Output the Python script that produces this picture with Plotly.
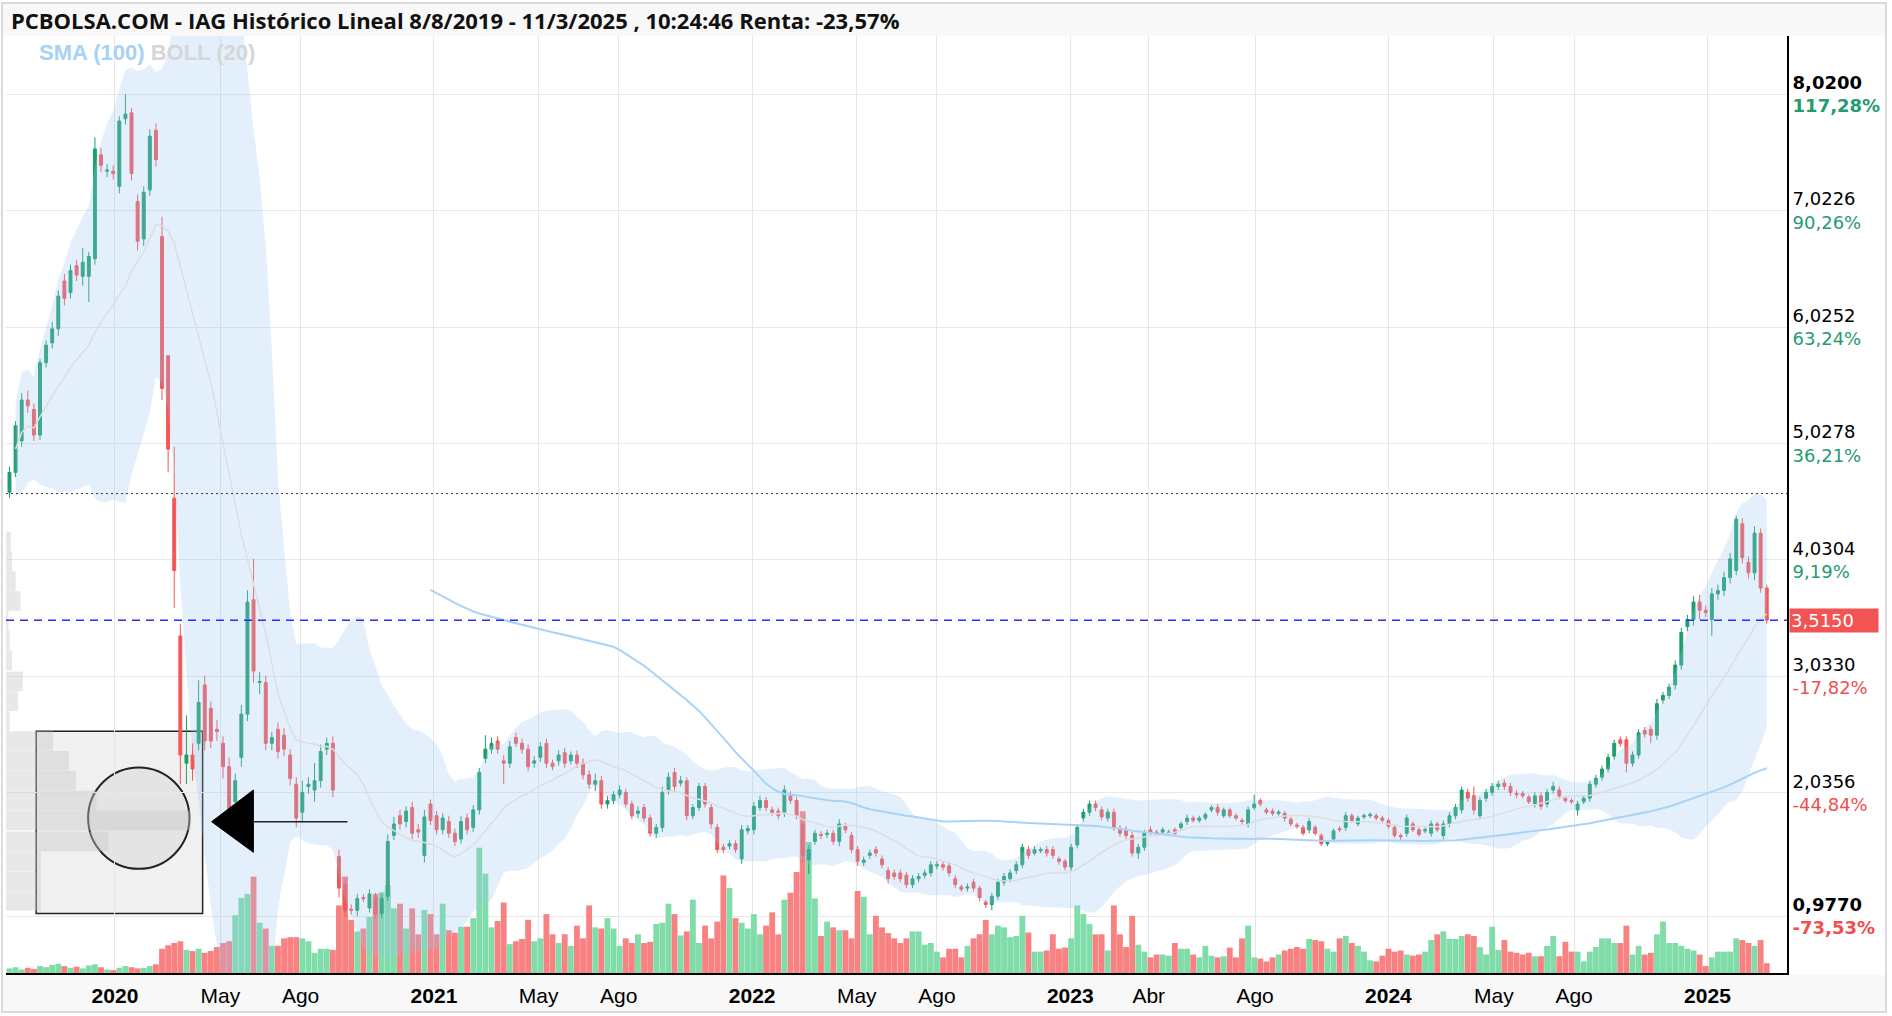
import numpy as np
import pandas as pd
import plotly.graph_objects as go

# ---------------- data (weekly candles IAG) ----------------
first_week = "2019-09-02"

opens = [
    4.61, 4.78, 5.05, 5.40, 5.32, 5.10, 5.72, 5.89, 6.01, 6.42,
    6.32, 6.55, 6.46, 6.46, 6.61, 7.50, 7.36, 7.36, 7.23, 7.81,
    7.86, 7.10, 6.78, 7.20, 7.71, 6.80, 5.78, 4.56, 3.38, 2.29,
    2.36, 2.46, 2.96, 2.76, 2.58, 2.46, 2.26, 1.96, 2.34, 2.71,
    3.69, 2.98, 2.98, 2.46, 2.58, 2.53, 2.36, 2.11, 1.87, 2.09,
    2.06, 2.14, 2.41, 2.46, 1.49, 1.25, 1.04, 1.03, 1.14, 1.05,
    1.14, 1.00, 1.15, 1.67, 1.84, 1.79, 1.91, 1.72, 1.50, 1.94,
    1.84, 1.72, 1.79, 1.69, 1.64, 1.82, 1.74, 1.89, 2.33, 2.41,
    2.48, 2.31, 2.29, 2.51, 2.46, 2.41, 2.29, 2.34, 2.46, 2.29,
    2.31, 2.38, 2.31, 2.36, 2.29, 2.19, 2.11, 2.14, 1.94, 1.97,
    2.02, 2.04, 1.94, 1.86, 1.91, 1.82, 1.69, 1.74, 2.06, 2.21,
    2.12, 2.14, 1.84, 1.91, 2.09, 1.91, 1.74, 1.57, 1.58, 1.60,
    1.47, 1.71, 1.72, 1.91, 1.97, 1.89, 1.88, 1.87, 2.02, 1.97,
    1.77, 1.46, 1.62, 1.68, 1.68, 1.69, 1.62, 1.75, 1.67, 1.55,
    1.44, 1.50, 1.55, 1.47, 1.37, 1.35, 1.35, 1.33, 1.25, 1.30,
    1.33, 1.35, 1.41, 1.42, 1.41, 1.30, 1.23, 1.22, 1.27, 1.22,
    1.10, 1.08, 1.15, 1.27, 1.30, 1.37, 1.42, 1.55, 1.52, 1.54,
    1.55, 1.55, 1.47, 1.45, 1.40, 1.59, 1.82, 1.87, 1.94, 1.89,
    1.82, 1.87, 1.73, 1.72, 1.67, 1.52, 1.57, 1.72, 1.70, 1.70,
    1.69, 1.72, 1.74, 1.79, 1.82, 1.80, 1.82, 1.89, 1.91, 1.84,
    1.89, 1.84, 1.80, 1.77, 1.91, 1.97, 1.89, 1.88, 1.86, 1.86,
    1.81, 1.76, 1.74, 1.72, 1.74, 1.67, 1.60, 1.64, 1.73, 1.74,
    1.84, 1.77, 1.83, 1.84, 1.84, 1.82, 1.80, 1.74, 1.67, 1.69,
    1.77, 1.72, 1.71, 1.69, 1.77, 1.67, 1.77, 1.84, 1.89, 2.04,
    2.01, 1.84, 1.99, 2.04, 2.09, 2.12, 2.09, 2.03, 2.03, 2.00,
    1.94, 2.01, 1.94, 2.06, 2.06, 1.99, 1.97, 1.89, 1.96, 1.99,
    2.11, 2.17, 2.24, 2.35, 2.49, 2.49, 2.29, 2.36, 2.57, 2.58,
    2.53, 2.83, 2.87, 2.96, 3.13, 3.46, 3.52, 3.67, 3.60, 3.52,
    3.74, 3.77, 3.88, 3.94, 4.34, 4.01, 3.92, 4.26, 3.79,
]

closes = [
    4.78, 5.18, 5.40, 5.35, 5.10, 5.72, 5.87, 6.01, 6.29, 6.27,
    6.51, 6.47, 6.58, 6.63, 7.55, 7.41, 7.37, 7.34, 7.79, 7.85,
    7.34, 6.76, 7.18, 7.66, 7.46, 5.50, 4.98, 3.94, 2.36, 2.36,
    2.24, 2.81, 2.48, 2.48, 2.56, 2.26, 1.87, 2.14, 2.71, 3.67,
    3.08, 2.99, 2.46, 2.51, 2.39, 2.41, 2.16, 1.82, 2.04, 2.11,
    2.14, 2.39, 2.46, 2.06, 1.22, 1.03, 1.03, 1.13, 1.13, 1.17,
    1.00, 1.13, 1.62, 1.77, 1.77, 1.88, 1.69, 1.70, 1.83, 1.80,
    1.72, 1.82, 1.69, 1.62, 1.79, 1.72, 1.89, 2.21, 2.41, 2.46,
    2.41, 2.29, 2.43, 2.46, 2.41, 2.26, 2.31, 2.43, 2.29, 2.26,
    2.36, 2.29, 2.36, 2.29, 2.19, 2.11, 2.14, 1.94, 1.97, 2.02,
    2.06, 1.94, 1.84, 1.88, 1.82, 1.69, 1.74, 2.04, 2.17, 2.09,
    2.14, 1.84, 1.91, 2.09, 1.94, 1.77, 1.55, 1.55, 1.60, 1.55,
    1.72, 1.73, 1.92, 1.97, 1.91, 1.87, 1.84, 2.06, 1.97, 1.84,
    1.50, 1.55, 1.69, 1.67, 1.69, 1.62, 1.77, 1.72, 1.55, 1.45,
    1.46, 1.52, 1.52, 1.42, 1.30, 1.32, 1.30, 1.25, 1.30, 1.32,
    1.35, 1.42, 1.42, 1.40, 1.35, 1.25, 1.21, 1.23, 1.22, 1.14,
    1.08, 1.15, 1.27, 1.32, 1.35, 1.42, 1.57, 1.50, 1.55, 1.55,
    1.52, 1.50, 1.45, 1.40, 1.57, 1.74, 1.87, 1.94, 1.91, 1.83,
    1.87, 1.74, 1.69, 1.67, 1.52, 1.57, 1.69, 1.70, 1.69, 1.72,
    1.70, 1.69, 1.77, 1.82, 1.80, 1.82, 1.85, 1.91, 1.87, 1.89,
    1.84, 1.82, 1.79, 1.89, 1.94, 1.94, 1.87, 1.86, 1.87, 1.82,
    1.77, 1.75, 1.69, 1.79, 1.69, 1.60, 1.61, 1.71, 1.72, 1.84,
    1.80, 1.82, 1.84, 1.85, 1.82, 1.80, 1.75, 1.67, 1.66, 1.82,
    1.72, 1.68, 1.72, 1.77, 1.72, 1.77, 1.84, 1.91, 2.06, 1.99,
    1.89, 1.97, 2.04, 2.09, 2.11, 2.09, 2.04, 2.02, 2.01, 1.96,
    2.01, 1.92, 2.04, 2.09, 2.01, 1.97, 1.96, 1.94, 1.99, 2.11,
    2.16, 2.24, 2.34, 2.46, 2.46, 2.29, 2.36, 2.55, 2.54, 2.53,
    2.80, 2.87, 2.94, 3.13, 3.41, 3.52, 3.67, 3.60, 3.58, 3.74,
    3.77, 3.88, 4.04, 4.38, 4.05, 3.92, 4.26, 3.79, 3.515,
]

# upper / lower wick lengths (hundredths of a euro)
wick_up = [
    5, 4, 6, 8, 5, 3, 4, 6, 5, 6, 5, 5, 12, 4, 10, 6, 5, 5, 4, 17,
    4, 6, 5, 6, 6, 17, 0, 44, 10, 34, 10, 19, 8, 6, 8, 6, 8, 6, 8, 10,
    35, 8, 6, 5, 6, 6, 5, 6, 10, 6, 15, 6, 5, 6, 6, 5, 4, 4, 3, 4,
    4, 4, 6, 6, 5, 4, 5, 5, 6, 4, 4, 4, 5, 4, 5, 4, 4, 4, 12, 5,
    4, 5, 5, 4, 4, 4, 4, 4, 4, 3, 4, 4, 3, 4, 4, 4, 6, 4, 4, 3,
    4, 3, 3, 4, 3, 3, 3, 5, 4, 4, 4, 3, 3, 3, 3, 3, 3, 3, 3, 3,
    4, 3, 4, 4, 3, 3, 3, 4, 3, 3, 4, 4, 3, 3, 3, 3, 4, 3, 3, 3,
    3, 3, 3, 3, 3, 3, 3, 3, 3, 3, 3, 3, 3, 3, 3, 3, 2, 3, 3, 2,
    2, 3, 3, 3, 3, 3, 3, 3, 3, 2, 3, 3, 2, 2, 3, 3, 3, 3, 3, 3,
    3, 3, 3, 3, 3, 3, 3, 3, 2, 2, 2, 2, 2, 3, 2, 2, 2, 2, 3, 2,
    2, 2, 2, 3, 8, 2, 2, 2, 2, 2, 2, 2, 2, 3, 2, 2, 2, 2, 2, 3,
    2, 2, 2, 2, 2, 2, 2, 2, 2, 3, 2, 2, 2, 3, 2, 3, 3, 3, 3, 3,
    8, 3, 3, 3, 3, 3, 3, 3, 2, 2, 3, 3, 3, 4, 3, 2, 2, 3, 2, 3,
    3, 3, 3, 3, 3, 3, 3, 3, 3, 3, 4, 3, 3, 4, 4, 4, 5, 6, 4, 5,
    5, 5, 5, 3, 5, 5, 6, 4, 3,
]
wick_dn = [
    5, 4, 5, 6, 5, 4, 4, 5, 6, 6, 5, 5, 8, 22, 5, 6, 5, 5, 6, 5,
    6, 8, 6, 5, 6, 10, 20, 32, 25, 18, 10, 6, 8, 6, 8, 10, 8, 8, 8, 6,
    10, 10, 6, 6, 6, 6, 6, 8, 8, 6, 10, 6, 5, 6, 8, 6, 4, 5, 3, 4,
    4, 4, 4, 4, 5, 5, 5, 5, 6, 4, 4, 4, 4, 4, 4, 4, 4, 4, 4, 4,
    4, 18, 4, 3, 4, 4, 4, 4, 4, 3, 4, 4, 3, 4, 4, 4, 6, 4, 4, 3,
    3, 3, 3, 4, 3, 3, 4, 4, 4, 4, 3, 4, 3, 3, 3, 4, 3, 3, 3, 3,
    4, 3, 4, 3, 3, 3, 3, 4, 3, 3, 6, 12, 3, 3, 3, 3, 4, 3, 3, 4,
    3, 3, 3, 3, 4, 3, 3, 3, 3, 3, 3, 3, 3, 3, 3, 3, 2, 3, 3, 3,
    3, 5, 3, 3, 3, 3, 3, 3, 2, 2, 3, 3, 3, 3, 3, 3, 3, 3, 3, 3,
    3, 3, 3, 3, 3, 5, 3, 3, 2, 2, 2, 2, 2, 3, 2, 2, 2, 2, 3, 2,
    2, 2, 2, 3, 2, 2, 2, 2, 2, 3, 2, 2, 2, 3, 2, 2, 2, 2, 2, 3,
    2, 2, 2, 2, 2, 2, 2, 2, 3, 3, 2, 2, 2, 3, 2, 3, 3, 3, 3, 3,
    4, 3, 3, 3, 3, 3, 3, 3, 2, 2, 3, 3, 3, 3, 3, 2, 2, 5, 2, 3,
    3, 3, 3, 3, 3, 8, 3, 3, 3, 7, 4, 3, 3, 4, 4, 4, 5, 8, 4, 14,
    5, 5, 5, 4, 5, 5, 6, 4, 3,
]

# weekly volume (millions of shares, approx.)
volume = [
    8, 10, 6, 9, 7, 12, 10, 14, 16, 12, 9, 11, 8, 13, 15, 10, 6, 5, 9, 12, 10, 8, 9, 12, 15,
    42, 48, 52, 55, 40, 38, 42, 35, 38, 45, 52, 55, 100, 130, 137, 167, 87, 77, 47, 47, 60, 62, 62,
    60, 55, 35, 42, 42, 40, 117, 167, 92, 72, 77, 97, 137, 140, 152, 112, 120, 77, 112, 67, 109,
    102, 67, 120, 74, 70, 80, 80, 95, 217, 172, 79, 90, 122, 50, 55, 59, 92, 55, 60, 102, 67, 52,
    67, 47, 82, 60, 117, 79,
    77, 95, 77, 47, 60, 52, 67, 52, 54, 85, 87, 120, 102, 65, 72, 127, 52, 82, 60, 89, 169, 147,
    95, 87, 77, 102, 67, 82, 105, 67, 127, 139, 175, 280, 227, 129, 64, 89, 79, 74, 74, 60, 142,
    132, 67, 99, 79, 69,
    60, 52, 60, 72, 72, 49, 52, 37, 27, 42, 42, 27, 47, 60, 67, 92, 67, 82, 79, 62, 64, 99, 70,
    37, 37, 39, 67, 42, 44, 60, 117, 102, 85, 67, 67, 39, 117, 67, 45, 99, 49, 37, 27, 32, 32,
    30, 52, 42, 42, 32,
    27, 47, 30, 27, 29, 44, 27, 60, 82, 27, 25, 20, 27, 32, 39, 42, 45, 42, 59, 57, 55, 42, 37,
    60, 64, 52, 47, 37, 22, 20, 30, 42, 37, 39, 32, 30, 32, 37, 57, 67, 72, 59, 59, 64, 67, 64,
    45, 32, 80, 40,
    57, 37, 35, 32, 35, 29, 29, 47, 64, 29, 54, 37, 37, 20, 37, 45, 60, 60, 52, 52, 82, 32, 47,
    32, 35, 67, 89, 52, 52, 47, 42, 39, 32, 12, 27, 37, 37, 37, 60, 57, 52, 47, 57, 17,
]

# volume-at-price profile (left edge)
profile_price = [1.11, 1.28, 1.45, 1.62, 1.80, 1.97, 2.14, 2.31, 2.48, 2.65,
                 2.82, 2.99, 3.17, 3.34, 3.51, 3.68, 3.85, 4.02, 4.19]
profile_volume = [29, 29, 29, 85, 153, 75, 58, 52, 39, 3,
                  10, 14, 5, 3, 2, 12, 8, 5, 4]

price_ticks = [8.02, 7.0226, 6.0252, 5.0278, 4.0304, 3.033, 2.0356, 0.977]
price_labels = ["8,0200", "7,0226", "6,0252", "5,0278", "4,0304", "3,0330", "2,0356", "0,9770"]
pct_labels = ["117,28%", "90,26%", "63,24%", "36,21%", "9,19%", "-17,82%", "-44,84%", "-73,53%"]

month_ticks = ["2020-01-01", "2020-05-01", "2020-08-01", "2021-01-01", "2021-05-01", "2021-08-01",
               "2022-01-01", "2022-05-01", "2022-08-01", "2023-01-01", "2023-04-01", "2023-08-01",
               "2024-01-01", "2024-05-01", "2024-08-01", "2025-01-01"]
month_labels = ["2020", "May", "Ago", "2021", "May", "Ago", "2022", "May", "Ago",
                "2023", "Abr", "Ago", "2024", "May", "Ago", "2025"]

ref_price = 4.599     # price at 8/8/2019
last_price = 3.515

x_start, x_end = "2019-08-29", "2025-04-02 06:00"
y_min, y_max = 0.493, 8.518
vol_to_price = 0.004946       # height of the volume pane per million shares
profile_days_per_unit = 1.384  # length of the profile bars per unit

# ---------------- derived ----------------
n = len(closes)
assert len(opens) == n and len(wick_up) == n and len(wick_dn) == n and len(volume) == n
weeks = pd.date_range(first_week, periods=n, freq="7D")
o = np.array(opens)
c = np.array(closes)
hi = np.maximum(o, c) + np.array(wick_up) / 100.0
lo = np.minimum(o, c) - np.array(wick_dn) / 100.0

s = pd.Series(c)
mid = s.rolling(20, min_periods=2).mean()
sd = s.rolling(20, min_periods=2).std(ddof=0)
upper = mid + 2 * sd
lower = mid - 2 * sd
sma100 = s.rolling(100, min_periods=70).mean()

GREEN = "#1f9d6b"
RED = "#f45656"
VOL_GREEN = "#80dca8"
VOL_RED = "#f88282"
vol_colors = [VOL_GREEN if c[i] >= o[i] else VOL_RED for i in range(n)]

DAY_MS = 86400000
fig = go.Figure()

fig.add_trace(go.Bar(orientation="h", y=profile_price,
                     x=[v * profile_days_per_unit * DAY_MS for v in profile_volume],
                     base=[x_start] * len(profile_price), width=0.168,
                     marker_color="rgba(200,200,200,0.42)", marker_line_width=0,
                     hoverinfo="skip", showlegend=False))

fig.add_trace(go.Scatter(x=weeks, y=upper, mode="lines", line=dict(width=0),
                         hoverinfo="skip", showlegend=False))
fig.add_trace(go.Scatter(x=weeks, y=lower, mode="lines", line=dict(width=0),
                         fill="tonexty", fillcolor="rgba(150,200,245,0.27)",
                         hoverinfo="skip", showlegend=False))
fig.add_trace(go.Scatter(x=weeks, y=mid, mode="lines", line=dict(color="#dddddd", width=1.5),
                         hoverinfo="skip", showlegend=False))

fig.add_trace(go.Bar(x=weeks, y=[v * vol_to_price for v in volume], base=y_min,
                     marker_color=vol_colors, marker_line_width=0,
                     width=7 * DAY_MS * 0.96, hoverinfo="skip", showlegend=False))

fig.add_trace(go.Scatter(x=weeks, y=sma100, mode="lines", line=dict(color="#a9d3f6", width=2),
                         hoverinfo="skip", showlegend=False))

fig.add_trace(go.Candlestick(x=weeks, open=o, high=hi, low=lo, close=c,
                             increasing=dict(line=dict(color=GREEN, width=1), fillcolor=GREEN),
                             decreasing=dict(line=dict(color=RED, width=1), fillcolor=RED),
                             whiskerwidth=0, showlegend=False))

# y tick labels (price + percentage)
ytext = []
for k, (p, q) in enumerate(zip(price_labels, pct_labels)):
    col = "#259b6f" if not q.startswith("-") else "#f04f4f"
    if k in (0, len(price_labels) - 1):
        ytext.append(f"<b>{p}</b><br><b><span style='color:{col}'>{q}</span></b>")
    else:
        ytext.append(f"{p}<br><span style='color:{col}'>{q}</span>")

xtext = [f"<b>{t}</b>" if t.isdigit() else t for t in month_labels]

L, R, T, B = 6, 105, 36, 43
W, H = 1892, 1016
pw, ph = W - L - R, H - T - B


def px(xf):
    return (xf - L) / pw


def py(yf):
    return (H - B - yf) / ph


shapes = [
    dict(type="rect", xref="paper", yref="paper", x0=px(2), x1=px(1886), y0=py(36), y1=py(4),
         fillcolor="#f8f8f8", line=dict(width=0), layer="below"),
    dict(type="rect", xref="paper", yref="paper", x0=px(2), x1=px(1886), y0=py(1012), y1=py(975),
         fillcolor="#f8f8f8", line=dict(width=0), layer="below"),
    dict(type="rect", xref="paper", yref="paper", x0=px(2), x1=px(1886), y0=py(1012), y1=py(3),
         line=dict(color="#dadada", width=2), layer="above"),
    dict(type="line", xref="paper", yref="y", x0=0, x1=1, y0=ref_price, y1=ref_price,
         line=dict(color="#333333", width=1, dash="2px,3px"), layer="above"),
    dict(type="line", xref="paper", yref="y", x0=0, x1=1, y0=last_price, y1=last_price,
         line=dict(color="#2a2aff", width=1.5, dash="8px,6px"), layer="above"),
    dict(type="rect", xref="paper", yref="paper", x0=0.01696, x1=0.1104, y0=0.0636, y1=0.2581,
         fillcolor="rgba(228,228,228,0.55)", line=dict(color="#222222", width=1.5), layer="between"),
    dict(type="circle", xref="paper", yref="paper", x0=0.0461, x1=0.1030, y0=0.1112, y1=0.2194,
         fillcolor="rgba(190,190,190,0.25)", line=dict(color="#222222", width=2), layer="between"),
    dict(type="path", xref="paper", yref="paper",
         path="M 0.11545 0.1615 L 0.1389 0.1953 L 0.1389 0.1288 Z",
         fillcolor="#000000", line=dict(color="#000000", width=1), layer="above"),
    dict(type="line", xref="paper", yref="paper", x0=0.1389, x1=0.19175, y0=0.1615, y1=0.1615,
         line=dict(color="#222222", width=1.5), layer="above"),
]

annotations = [
    dict(xref="paper", yref="paper", x=px(9), y=py(20), xanchor="left", yanchor="middle",
         showarrow=False,
         text="<b>PCBOLSA.COM - IAG Histórico Lineal 8/8/2019 - 11/3/2025 , 10:24:46 Renta: -23,57%</b>",
         font=dict(family="Open Sans, Noto Sans, sans-serif", size=22, color="#111111")),
    dict(xref="paper", yref="paper", x=px(37), y=py(52), xanchor="left", yanchor="middle",
         showarrow=False,
         text="<b><span style='color:#a6d2f5'>SMA (100)</span> <span style='color:#d6d6d6'>BOLL (20)</span></b>",
         font=dict(family="Liberation Sans, Arial, sans-serif", size=22)),
    dict(xref="paper", yref="y", x=1, y=last_price, xanchor="left", yanchor="middle",
         xshift=2, showarrow=False, text="3,5150", bgcolor="#f25353", width=86, height=21,
         align="left", borderpad=1,
         font=dict(family="DejaVu Sans, Verdana, sans-serif", size=18, color="#ffffff")),
]

fig.update_layout(
    width=W, height=H,
    margin=dict(l=L, r=R, t=T, b=B),
    paper_bgcolor="#ffffff", plot_bgcolor="#ffffff",
    barmode="overlay", boxgap=0.32,
    showlegend=False,
    shapes=shapes, annotations=annotations,
    xaxis=dict(type="date", range=[x_start, x_end], tickvals=month_ticks, ticktext=xtext,
               showgrid=True, gridcolor="#e6e6e6", gridwidth=1,
               showline=True, linecolor="#000000", linewidth=2,
               ticks="outside", ticklen=3, tickcolor="rgba(0,0,0,0)",
               tickfont=dict(family="Liberation Sans, Arial, sans-serif", size=21, color="#000000"),
               rangeslider=dict(visible=False), zeroline=False),
    yaxis=dict(side="right", range=[y_min, y_max],
               tickvals=price_ticks, ticktext=ytext,
               showgrid=True, gridcolor="#e8e8e8", gridwidth=1, zeroline=False,
               showline=True, linecolor="#000000", linewidth=2,
               ticks="",
               tickfont=dict(family="DejaVu Sans, Verdana, sans-serif", size=18, color="#000000")),
)

fig.write_html("out.html")
